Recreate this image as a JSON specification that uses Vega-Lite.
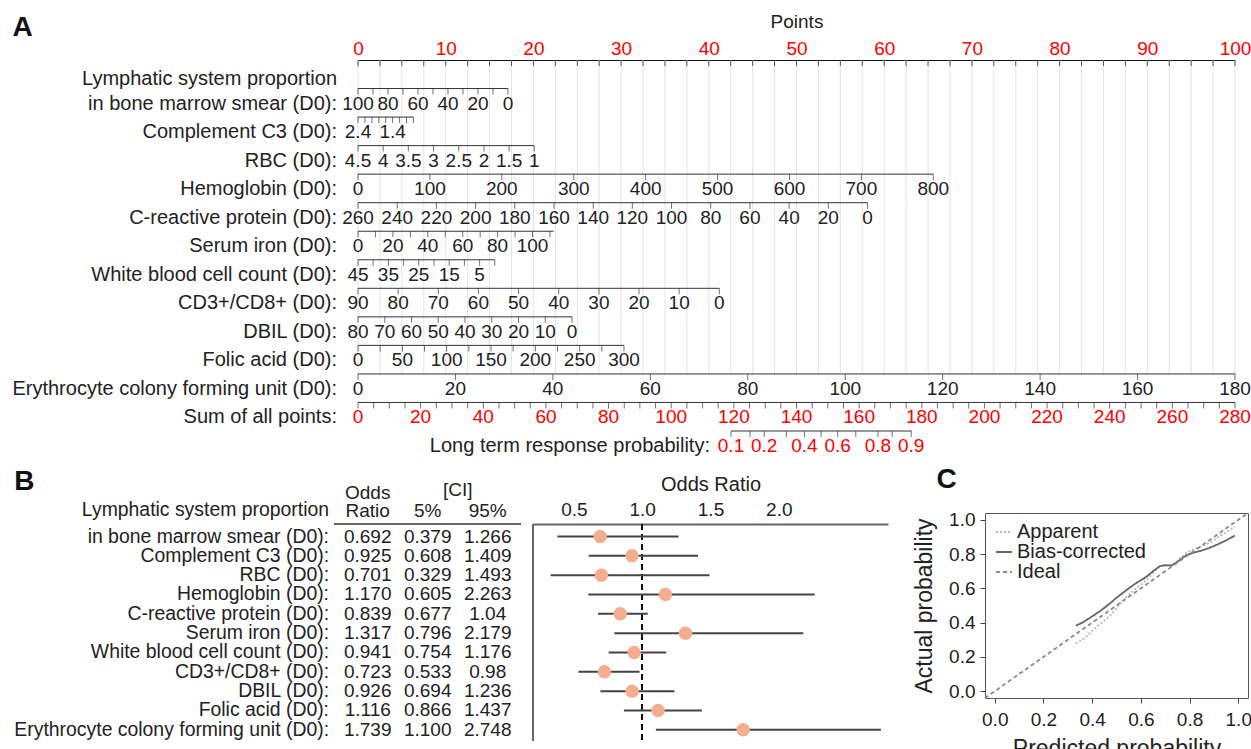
{
  "$schema": "https://vega.github.io/schema/vega-lite/v6.json",
  "padding": {"left": 12, "top": 12, "right": 0, "bottom": 0},
  "spacing": 9,
  "resolve": {"scale": {"color": "independent", "strokeDash": "independent"}, "legend": {"color": "independent", "strokeDash": "independent"}},
  "config": {
    "font": "Liberation Sans",
    "view": {"stroke": null},
    "axis": {"labelFont": "Liberation Sans", "titleFont": "Liberation Sans", "labelColor": "#222", "titleColor": "#222", "titleFontWeight": "normal", "grid": false, "labelFontSize": 19, "titleFontSize": 19},
    "text": {"font": "Liberation Sans", "fontSize": 19, "color": "#222"},
    "title": {"font": "Liberation Sans", "fontSize": 28, "fontWeight": "bold", "anchor": "start", "frame": "bounds", "color": "#111"},
    "legend": {"labelFont": "Liberation Sans"}
  },
  "datasets": {
    "pointsGrid": [
      {"pts": 0}, {"pts": 2.5}, {"pts": 5}, {"pts": 7.5}, {"pts": 10}, {"pts": 12.5}, {"pts": 15}, {"pts": 17.5}, {"pts": 20}, {"pts": 22.5},
      {"pts": 25}, {"pts": 27.5}, {"pts": 30}, {"pts": 32.5}, {"pts": 35}, {"pts": 37.5}, {"pts": 40}, {"pts": 42.5}, {"pts": 45}, {"pts": 47.5},
      {"pts": 50}, {"pts": 52.5}, {"pts": 55}, {"pts": 57.5}, {"pts": 60}, {"pts": 62.5}, {"pts": 65}, {"pts": 67.5}, {"pts": 70}, {"pts": 72.5},
      {"pts": 75}, {"pts": 77.5}, {"pts": 80}, {"pts": 82.5}, {"pts": 85}, {"pts": 87.5}, {"pts": 90}, {"pts": 92.5}, {"pts": 95}, {"pts": 97.5}, {"pts": 100}
    ],
    "nomoRows": [
      {"r": 1, "lo": 0, "hi": 17.1, "name": "in bone marrow smear (D0):", "name0": "Lymphatic system proportion"},
      {"r": 2, "lo": 0, "hi": 6.32, "name": "Complement C3 (D0):"},
      {"r": 3, "lo": 0, "hi": 20.1, "name": "RBC (D0):"},
      {"r": 4, "lo": 0, "hi": 65.6, "name": "Hemoglobin (D0):"},
      {"r": 5, "lo": 0, "hi": 58.1, "name": "C-reactive protein (D0):"},
      {"r": 6, "lo": 0, "hi": 22.3, "name": "Serum iron (D0):"},
      {"r": 7, "lo": 0, "hi": 15.6, "name": "White blood cell count (D0):"},
      {"r": 8, "lo": 0, "hi": 41.2, "name": "CD3+/CD8+ (D0):"},
      {"r": 9, "lo": 0, "hi": 24.4, "name": "DBIL (D0):"},
      {"r": 10, "lo": 0, "hi": 30.33, "name": "Folic acid (D0):"},
      {"r": 11, "lo": 0, "hi": 100, "name": "Erythrocyte colony forming unit (D0):"},
      {"r": 12, "lo": 0, "hi": 100, "name": "Sum of all points:"},
      {"r": 13, "lo": 42.53, "hi": 63.08, "name": "Long term response probability:"}
    ],
    "nomoTicks": [
      {"r": 1, "pts": 0, "label": "100"}, {"r": 1, "pts": 1.71}, {"r": 1, "pts": 3.42, "label": "80"}, {"r": 1, "pts": 5.13}, {"r": 1, "pts": 6.84, "label": "60"}, {"r": 1, "pts": 8.55}, {"r": 1, "pts": 10.26, "label": "40"}, {"r": 1, "pts": 11.97}, {"r": 1, "pts": 13.68, "label": "20"}, {"r": 1, "pts": 15.39}, {"r": 1, "pts": 17.1, "label": "0"},
      {"r": 2, "pts": 0, "label": "2.4"}, {"r": 2, "pts": 0.79}, {"r": 2, "pts": 1.58}, {"r": 2, "pts": 2.37}, {"r": 2, "pts": 3.16}, {"r": 2, "pts": 3.95, "label": "1.4"}, {"r": 2, "pts": 4.74}, {"r": 2, "pts": 5.53}, {"r": 2, "pts": 6.32},
      {"r": 3, "pts": 0, "label": "4.5"}, {"r": 3, "pts": 2.87, "label": "4"}, {"r": 3, "pts": 5.74, "label": "3.5"}, {"r": 3, "pts": 8.61, "label": "3"}, {"r": 3, "pts": 11.49, "label": "2.5"}, {"r": 3, "pts": 14.36, "label": "2"}, {"r": 3, "pts": 17.23, "label": "1.5"}, {"r": 3, "pts": 20.1, "label": "1"},
      {"r": 4, "pts": 0, "label": "0"}, {"r": 4, "pts": 8.2, "label": "100"}, {"r": 4, "pts": 16.4, "label": "200"}, {"r": 4, "pts": 24.6, "label": "300"}, {"r": 4, "pts": 32.8, "label": "400"}, {"r": 4, "pts": 41, "label": "500"}, {"r": 4, "pts": 49.2, "label": "600"}, {"r": 4, "pts": 57.4, "label": "700"}, {"r": 4, "pts": 65.6, "label": "800"},
      {"r": 5, "pts": 0, "label": "260"}, {"r": 5, "pts": 4.47, "label": "240"}, {"r": 5, "pts": 8.94, "label": "220"}, {"r": 5, "pts": 13.41, "label": "200"}, {"r": 5, "pts": 17.88, "label": "180"}, {"r": 5, "pts": 22.35, "label": "160"}, {"r": 5, "pts": 26.82, "label": "140"}, {"r": 5, "pts": 31.28, "label": "120"}, {"r": 5, "pts": 35.75, "label": "100"}, {"r": 5, "pts": 40.22, "label": "80"}, {"r": 5, "pts": 44.69, "label": "60"}, {"r": 5, "pts": 49.16, "label": "40"}, {"r": 5, "pts": 53.63, "label": "20"}, {"r": 5, "pts": 58.1, "label": "0"},
      {"r": 6, "pts": 0, "label": "0"}, {"r": 6, "pts": 1.99}, {"r": 6, "pts": 3.98, "label": "20"}, {"r": 6, "pts": 5.97}, {"r": 6, "pts": 7.96, "label": "40"}, {"r": 6, "pts": 9.95}, {"r": 6, "pts": 11.94, "label": "60"}, {"r": 6, "pts": 13.93}, {"r": 6, "pts": 15.92, "label": "80"}, {"r": 6, "pts": 17.91}, {"r": 6, "pts": 19.9, "label": "100"}, {"r": 6, "pts": 21.89},
      {"r": 7, "pts": 0, "label": "45"}, {"r": 7, "pts": 1.73}, {"r": 7, "pts": 3.47, "label": "35"}, {"r": 7, "pts": 5.2}, {"r": 7, "pts": 6.93, "label": "25"}, {"r": 7, "pts": 8.67}, {"r": 7, "pts": 10.4, "label": "15"}, {"r": 7, "pts": 12.13}, {"r": 7, "pts": 13.87, "label": "5"}, {"r": 7, "pts": 15.6},
      {"r": 8, "pts": 0, "label": "90"}, {"r": 8, "pts": 4.58, "label": "80"}, {"r": 8, "pts": 9.16, "label": "70"}, {"r": 8, "pts": 13.73, "label": "60"}, {"r": 8, "pts": 18.31, "label": "50"}, {"r": 8, "pts": 22.89, "label": "40"}, {"r": 8, "pts": 27.47, "label": "30"}, {"r": 8, "pts": 32.04, "label": "20"}, {"r": 8, "pts": 36.62, "label": "10"}, {"r": 8, "pts": 41.2, "label": "0"},
      {"r": 9, "pts": 0, "label": "80"}, {"r": 9, "pts": 3.05, "label": "70"}, {"r": 9, "pts": 6.1, "label": "60"}, {"r": 9, "pts": 9.15, "label": "50"}, {"r": 9, "pts": 12.2, "label": "40"}, {"r": 9, "pts": 15.25, "label": "30"}, {"r": 9, "pts": 18.3, "label": "20"}, {"r": 9, "pts": 21.35, "label": "10"}, {"r": 9, "pts": 24.4, "label": "0"},
      {"r": 10, "pts": 0, "label": "0"}, {"r": 10, "pts": 2.53}, {"r": 10, "pts": 5.06, "label": "50"}, {"r": 10, "pts": 7.58}, {"r": 10, "pts": 10.11, "label": "100"}, {"r": 10, "pts": 12.64}, {"r": 10, "pts": 15.17, "label": "150"}, {"r": 10, "pts": 17.69}, {"r": 10, "pts": 20.22, "label": "200"}, {"r": 10, "pts": 22.75}, {"r": 10, "pts": 25.28, "label": "250"}, {"r": 10, "pts": 27.8}, {"r": 10, "pts": 30.33, "label": "300"},
      {"r": 11, "pts": 0, "label": "0"}, {"r": 11, "pts": 11.11, "label": "20"}, {"r": 11, "pts": 22.22, "label": "40"}, {"r": 11, "pts": 33.33, "label": "60"}, {"r": 11, "pts": 44.44, "label": "80"}, {"r": 11, "pts": 55.56, "label": "100"}, {"r": 11, "pts": 66.67, "label": "120"}, {"r": 11, "pts": 77.78, "label": "140"}, {"r": 11, "pts": 88.89, "label": "160"}, {"r": 11, "pts": 100, "label": "180"},
      {"r": 12, "pts": 0, "label": "0"}, {"r": 12, "pts": 1.79}, {"r": 12, "pts": 3.57}, {"r": 12, "pts": 5.36}, {"r": 12, "pts": 7.14, "label": "20"}, {"r": 12, "pts": 8.93}, {"r": 12, "pts": 10.71}, {"r": 12, "pts": 12.5}, {"r": 12, "pts": 14.29, "label": "40"}, {"r": 12, "pts": 16.07}, {"r": 12, "pts": 17.86}, {"r": 12, "pts": 19.64}, {"r": 12, "pts": 21.43, "label": "60"}, {"r": 12, "pts": 23.21}, {"r": 12, "pts": 25}, {"r": 12, "pts": 26.79}, {"r": 12, "pts": 28.57, "label": "80"}, {"r": 12, "pts": 30.36}, {"r": 12, "pts": 32.14}, {"r": 12, "pts": 33.93}, {"r": 12, "pts": 35.71, "label": "100"}, {"r": 12, "pts": 37.5}, {"r": 12, "pts": 39.29}, {"r": 12, "pts": 41.07}, {"r": 12, "pts": 42.86, "label": "120"}, {"r": 12, "pts": 44.64}, {"r": 12, "pts": 46.43}, {"r": 12, "pts": 48.21}, {"r": 12, "pts": 50, "label": "140"}, {"r": 12, "pts": 51.79}, {"r": 12, "pts": 53.57}, {"r": 12, "pts": 55.36}, {"r": 12, "pts": 57.14, "label": "160"}, {"r": 12, "pts": 58.93}, {"r": 12, "pts": 60.71}, {"r": 12, "pts": 62.5}, {"r": 12, "pts": 64.29, "label": "180"}, {"r": 12, "pts": 66.07}, {"r": 12, "pts": 67.86}, {"r": 12, "pts": 69.64}, {"r": 12, "pts": 71.43, "label": "200"}, {"r": 12, "pts": 73.21}, {"r": 12, "pts": 75}, {"r": 12, "pts": 76.79}, {"r": 12, "pts": 78.57, "label": "220"}, {"r": 12, "pts": 80.36}, {"r": 12, "pts": 82.14}, {"r": 12, "pts": 83.93}, {"r": 12, "pts": 85.71, "label": "240"}, {"r": 12, "pts": 87.5}, {"r": 12, "pts": 89.29}, {"r": 12, "pts": 91.07}, {"r": 12, "pts": 92.86, "label": "260"}, {"r": 12, "pts": 94.64}, {"r": 12, "pts": 96.43}, {"r": 12, "pts": 98.21}, {"r": 12, "pts": 100, "label": "280"},
      {"r": 13, "pts": 42.53, "label": "0.1"}, {"r": 13, "pts": 44.7}, {"r": 13, "pts": 46.32, "label": "0.2"}, {"r": 13, "pts": 48.84}, {"r": 13, "pts": 50.91, "label": "0.4"}, {"r": 13, "pts": 52.8}, {"r": 13, "pts": 54.7, "label": "0.6"}, {"r": 13, "pts": 56.76}, {"r": 13, "pts": 59.29, "label": "0.8"}, {"r": 13, "pts": 60.91}, {"r": 13, "pts": 63.08, "label": "0.9"}
    ],
    "forest": [
      {"i": 1, "name": "in bone marrow smear (D0):", "name0": "Lymphatic system proportion", "or": 0.692, "lo": 0.379, "hi": 1.266, "ors": "0.692", "los": "0.379", "his": "1.266"},
      {"i": 2, "name": "Complement C3 (D0):", "or": 0.925, "lo": 0.608, "hi": 1.409, "ors": "0.925", "los": "0.608", "his": "1.409"},
      {"i": 3, "name": "RBC (D0):", "or": 0.701, "lo": 0.329, "hi": 1.493, "ors": "0.701", "los": "0.329", "his": "1.493"},
      {"i": 4, "name": "Hemoglobin (D0):", "or": 1.17, "lo": 0.605, "hi": 2.263, "ors": "1.170", "los": "0.605", "his": "2.263"},
      {"i": 5, "name": "C-reactive protein (D0):", "or": 0.839, "lo": 0.677, "hi": 1.04, "ors": "0.839", "los": "0.677", "his": "1.04"},
      {"i": 6, "name": "Serum iron (D0):", "or": 1.317, "lo": 0.796, "hi": 2.179, "ors": "1.317", "los": "0.796", "his": "2.179"},
      {"i": 7, "name": "White blood cell count (D0):", "or": 0.941, "lo": 0.754, "hi": 1.176, "ors": "0.941", "los": "0.754", "his": "1.176"},
      {"i": 8, "name": "CD3+/CD8+ (D0):", "or": 0.723, "lo": 0.533, "hi": 0.98, "ors": "0.723", "los": "0.533", "his": "0.98"},
      {"i": 9, "name": "DBIL (D0):", "or": 0.926, "lo": 0.694, "hi": 1.236, "ors": "0.926", "los": "0.694", "his": "1.236"},
      {"i": 10, "name": "Folic acid (D0):", "or": 1.116, "lo": 0.866, "hi": 1.437, "ors": "1.116", "los": "0.866", "his": "1.437"},
      {"i": 11, "name": "Erythrocyte colony forming unit (D0):", "or": 1.739, "lo": 1.1, "hi": 2.748, "ors": "1.739", "los": "1.100", "his": "2.748"}
    ],
    "calib": [
      {"p": 0.333, "a": 0.278, "s": "Apparent"}, {"p": 0.37, "a": 0.31, "s": "Apparent"}, {"p": 0.404, "a": 0.357, "s": "Apparent"}, {"p": 0.44, "a": 0.4, "s": "Apparent"}, {"p": 0.473, "a": 0.44, "s": "Apparent"}, {"p": 0.51, "a": 0.5, "s": "Apparent"}, {"p": 0.541, "a": 0.55, "s": "Apparent"}, {"p": 0.58, "a": 0.6, "s": "Apparent"}, {"p": 0.623, "a": 0.648, "s": "Apparent"}, {"p": 0.65, "a": 0.69, "s": "Apparent"}, {"p": 0.678, "a": 0.727, "s": "Apparent"}, {"p": 0.7, "a": 0.735, "s": "Apparent"}, {"p": 0.726, "a": 0.735, "s": "Apparent"}, {"p": 0.75, "a": 0.76, "s": "Apparent"}, {"p": 0.788, "a": 0.81, "s": "Apparent"}, {"p": 0.83, "a": 0.835, "s": "Apparent"}, {"p": 0.884, "a": 0.868, "s": "Apparent"}, {"p": 0.93, "a": 0.91, "s": "Apparent"}, {"p": 0.986, "a": 0.96, "s": "Apparent"},
      {"p": 0.333, "a": 0.382, "s": "Bias-corrected"}, {"p": 0.36, "a": 0.4, "s": "Bias-corrected"}, {"p": 0.404, "a": 0.44, "s": "Bias-corrected"}, {"p": 0.44, "a": 0.475, "s": "Bias-corrected"}, {"p": 0.473, "a": 0.512, "s": "Bias-corrected"}, {"p": 0.5, "a": 0.545, "s": "Bias-corrected"}, {"p": 0.541, "a": 0.59, "s": "Bias-corrected"}, {"p": 0.58, "a": 0.63, "s": "Bias-corrected"}, {"p": 0.623, "a": 0.668, "s": "Bias-corrected"}, {"p": 0.65, "a": 0.7, "s": "Bias-corrected"}, {"p": 0.678, "a": 0.73, "s": "Bias-corrected"}, {"p": 0.7, "a": 0.735, "s": "Bias-corrected"}, {"p": 0.726, "a": 0.733, "s": "Bias-corrected"}, {"p": 0.75, "a": 0.755, "s": "Bias-corrected"}, {"p": 0.788, "a": 0.795, "s": "Bias-corrected"}, {"p": 0.82, "a": 0.81, "s": "Bias-corrected"}, {"p": 0.843, "a": 0.818, "s": "Bias-corrected"}, {"p": 0.88, "a": 0.835, "s": "Bias-corrected"}, {"p": 0.92, "a": 0.86, "s": "Bias-corrected"}, {"p": 0.95, "a": 0.88, "s": "Bias-corrected"}, {"p": 0.986, "a": 0.908, "s": "Bias-corrected"},
      {"p": -0.04, "a": -0.04, "s": "Ideal"}, {"p": 1.04, "a": 1.04, "s": "Ideal"}
    ]
  },
  "vconcat": [
    {
      "width": 877,
      "height": 371,
      "title": {"text": "A", "dy": 34},
      "layer": [
        {
          "data": {"name": "pointsGrid"},
          "mark": {"type": "rule", "color": "#e4e4e4", "strokeWidth": 1},
          "encoding": {
            "x": {"field": "pts", "type": "quantitative", "scale": {"domain": [0, 100], "nice": false, "zero": false},
                  "axis": {"orient": "top", "values": [0, 10, 20, 30, 40, 50, 60, 70, 80, 90, 100], "labelColor": "#ff0000", "ticks": false, "tickSize": 0, "domain": true, "domainColor": "#111", "domainWidth": 1, "labelPadding": 2, "labelFlush": false, "labelOverlap": false, "title": "Points", "titlePadding": 8}},
            "y": {"datum": 0, "type": "quantitative", "scale": {"domain": [0, 13], "reverse": true, "nice": false, "zero": false}, "axis": null},
            "y2": {"datum": 11}
          }
        },
        {
          "data": {"name": "pointsGrid"},
          "mark": {"type": "tick", "orient": "vertical", "size": 6, "thickness": 1, "yOffset": 3, "color": "#111"},
          "encoding": {
            "x": {"field": "pts", "type": "quantitative"},
            "y": {"datum": 0, "type": "quantitative", "axis": null}
          }
        },
        {
          "data": {"name": "nomoRows"},
          "mark": {"type": "rule", "color": "#333", "strokeWidth": 1},
          "encoding": {
            "x": {"field": "lo", "type": "quantitative"},
            "x2": {"field": "hi"},
            "y": {"field": "r", "type": "quantitative", "axis": null}
          }
        },
        {
          "data": {"name": "nomoTicks"},
          "mark": {"type": "tick", "orient": "vertical", "size": 6, "thickness": 1, "yOffset": 3, "color": "#333"},
          "encoding": {
            "x": {"field": "pts", "type": "quantitative"},
            "y": {"field": "r", "type": "quantitative", "axis": null}
          }
        },
        {
          "data": {"name": "nomoTicks"},
          "transform": [{"filter": "datum.label != null"}],
          "mark": {"type": "text", "align": "center", "baseline": "middle", "dy": 15, "fontSize": 19},
          "encoding": {
            "x": {"field": "pts", "type": "quantitative"},
            "y": {"field": "r", "type": "quantitative", "axis": null},
            "text": {"field": "label"},
            "color": {"condition": {"test": "datum.r >= 12", "value": "#ff0000"}, "value": "#222"}
          }
        },
        {
          "data": {"name": "nomoRows"},
          "mark": {"type": "text", "align": "right", "baseline": "middle", "dy": 15, "dx": -21, "fontSize": 20},
          "encoding": {
            "x": {"field": "lo", "type": "quantitative"},
            "y": {"field": "r", "type": "quantitative", "axis": null},
            "text": {"field": "name"}
          }
        },
        {
          "data": {"name": "nomoRows"},
          "transform": [{"filter": "datum.name0 != null"}],
          "mark": {"type": "text", "align": "right", "baseline": "middle", "dy": -10, "dx": -21, "fontSize": 20},
          "encoding": {
            "x": {"field": "lo", "type": "quantitative"},
            "y": {"field": "r", "type": "quantitative", "axis": null},
            "text": {"field": "name0"}
          }
        }
      ]
    },
    {
      "spacing": 25,
      "resolve": {"scale": {"color": "independent", "strokeDash": "independent"}, "legend": {"color": "independent", "strokeDash": "independent"}},
      "hconcat": [
        {
          "spacing": 10,
          "hconcat": [
            {
              "width": 163,
              "height": 228,
              "title": {"text": "B", "dy": 19},
              "layer": [
                {
                  "data": {"values": [{"x0": 0.438, "x1": 3.555, "y0": 0.353}]},
                  "mark": {"type": "rule", "color": "#666", "strokeWidth": 2},
                  "encoding": {
                    "x": {"field": "x0", "type": "quantitative", "scale": {"domain": [0.838, 3.555], "nice": false, "zero": false}, "axis": null},
                    "x2": {"field": "x1"},
                    "y": {"field": "y0", "type": "quantitative", "scale": {"domain": [-0.216, 11.58], "reverse": true, "nice": false, "zero": false}, "axis": null}
                  }
                },
                {
                  "data": {"name": "forest"},
                  "mark": {"type": "text", "align": "right", "baseline": "middle", "fontSize": 19.4},
                  "encoding": {
                    "x": {"datum": 0.355, "type": "quantitative", "axis": null},
                    "y": {"field": "i", "type": "quantitative", "axis": null},
                    "text": {"field": "name"}
                  }
                },
                {
                  "data": {"name": "forest"},
                  "transform": [{"filter": "datum.name0 != null"}],
                  "mark": {"type": "text", "align": "right", "baseline": "middle", "fontSize": 19.4},
                  "encoding": {
                    "x": {"datum": 0.355, "type": "quantitative", "axis": null},
                    "y": {"datum": -0.38, "type": "quantitative", "axis": null},
                    "text": {"field": "name0"}
                  }
                },
                {
                  "data": {"name": "forest"},
                  "mark": {"type": "text", "align": "center", "baseline": "middle", "fontSize": 19},
                  "encoding": {"x": {"datum": 1, "type": "quantitative", "axis": null}, "y": {"field": "i", "type": "quantitative", "axis": null}, "text": {"field": "ors"}}
                },
                {
                  "data": {"name": "forest"},
                  "mark": {"type": "text", "align": "center", "baseline": "middle", "fontSize": 19},
                  "encoding": {"x": {"datum": 2, "type": "quantitative", "axis": null}, "y": {"field": "i", "type": "quantitative", "axis": null}, "text": {"field": "los"}}
                },
                {
                  "data": {"name": "forest"},
                  "mark": {"type": "text", "align": "center", "baseline": "middle", "fontSize": 19},
                  "encoding": {"x": {"datum": 3, "type": "quantitative", "axis": null}, "y": {"field": "i", "type": "quantitative", "axis": null}, "text": {"field": "his"}}
                },
                {
                  "data": {"values": [{"col": 1, "h": "Ratio"}, {"col": 2, "h": "5%"}, {"col": 3, "h": "95%"}]},
                  "mark": {"type": "text", "align": "center", "baseline": "middle", "fontSize": 19},
                  "encoding": {"x": {"field": "col", "type": "quantitative", "axis": null}, "y": {"datum": -0.32, "type": "quantitative", "axis": null}, "text": {"field": "h"}}
                },
                {
                  "data": {"values": [{"col": 1, "h": "Odds"}]},
                  "mark": {"type": "text", "align": "center", "baseline": "middle", "fontSize": 19},
                  "encoding": {"x": {"field": "col", "type": "quantitative", "axis": null}, "y": {"datum": -1.25, "type": "quantitative", "axis": null}, "text": {"field": "h"}}
                },
                {
                  "data": {"values": [{"col": 2.5, "h": "[CI]"}]},
                  "mark": {"type": "text", "align": "center", "baseline": "middle", "fontSize": 19},
                  "encoding": {"x": {"field": "col", "type": "quantitative", "axis": null}, "y": {"datum": -1.43, "type": "quantitative", "axis": null}, "text": {"field": "h"}}
                }
              ]
            },
            {
              "width": 355,
              "height": 228,
              "data": {"name": "forest"},
              "layer": [
                {
                  "mark": {"type": "rule", "color": "#666", "strokeWidth": 2},
                  "encoding": {
                    "x": {"datum": 0.2, "type": "quantitative", "scale": {"domain": [0.2, 2.8], "nice": false, "zero": false},
                          "axis": {"orient": "top", "offset": -11, "values": [0.5, 1, 1.5, 2], "format": ".1f", "ticks": false, "domain": true, "domainColor": "#666", "domainWidth": 2, "labelPadding": 5, "title": "Odds Ratio", "titlePadding": 6, "titleFontSize": 20}},
                    "y": {"datum": 0.353, "type": "quantitative", "scale": {"domain": [-0.216, 11.58], "reverse": true, "nice": false, "zero": false}, "axis": null},
                    "y2": {"datum": 11.58}
                  }
                },
                {
                  "mark": {"type": "rule", "color": "#111", "strokeDash": [6, 4], "strokeWidth": 1.5},
                  "encoding": {"x": {"datum": 1, "type": "quantitative"}, "y": {"datum": 0.353, "type": "quantitative", "axis": null}, "y2": {"datum": 11.58}}
                },
                {
                  "mark": {"type": "rule", "color": "#444", "strokeWidth": 2},
                  "encoding": {
                    "x": {"field": "lo", "type": "quantitative"},
                    "x2": {"field": "hi"},
                    "y": {"field": "i", "type": "quantitative", "axis": null}
                  }
                },
                {
                  "mark": {"type": "circle", "size": 180, "color": "#F4AD8E", "opacity": 1},
                  "encoding": {"x": {"field": "or", "type": "quantitative"}, "y": {"field": "i", "type": "quantitative", "axis": null}}
                }
              ]
            }
          ]
        },
        {
          "width": 263,
          "height": 185,
          "view": {"stroke": "#555", "strokeWidth": 1},
          "title": {"text": "C", "dx": 23, "dy": -11},
          "data": {"name": "calib"},
          "mark": {"type": "line", "strokeWidth": 1.8},
          "encoding": {
            "x": {"field": "p", "type": "quantitative", "scale": {"domain": [-0.04, 1.04], "nice": false, "zero": false},
                  "axis": {"values": [0, 0.2, 0.4, 0.6, 0.8, 1], "format": ".1f", "domain": false, "tickSize": 5, "tickColor": "#444", "labelPadding": 7, "title": "Predicted probability", "titleFontSize": 23, "titlePadding": 8}},
            "y": {"field": "a", "type": "quantitative", "scale": {"domain": [-0.04, 1.04], "nice": false, "zero": false},
                  "axis": {"values": [0, 0.2, 0.4, 0.6, 0.8, 1], "format": ".1f", "domain": false, "tickSize": 5, "tickColor": "#444", "labelPadding": 5, "title": "Actual probability", "titleFontSize": 23, "titlePadding": 12}},
            "color": {"field": "s", "type": "nominal", "scale": {"domain": ["Apparent", "Bias-corrected", "Ideal"], "range": ["#b8b8b8", "#666666", "#8a8a8a"]},
                      "legend": {"orient": "top-left", "offset": 9, "title": null, "labelFontSize": 20, "labelColor": "#222", "symbolType": "stroke", "symbolSize": 256, "symbolStrokeWidth": 2, "padding": 0, "rowPadding": 0, "labelOffset": 3}},
            "strokeDash": {"field": "s", "type": "nominal", "scale": {"domain": ["Apparent", "Bias-corrected", "Ideal"], "range": [[2, 2], [1, 0], [4, 3]]}},
            "order": {"field": "p", "type": "quantitative"}
          }
        }
      ]
    }
  ]
}
